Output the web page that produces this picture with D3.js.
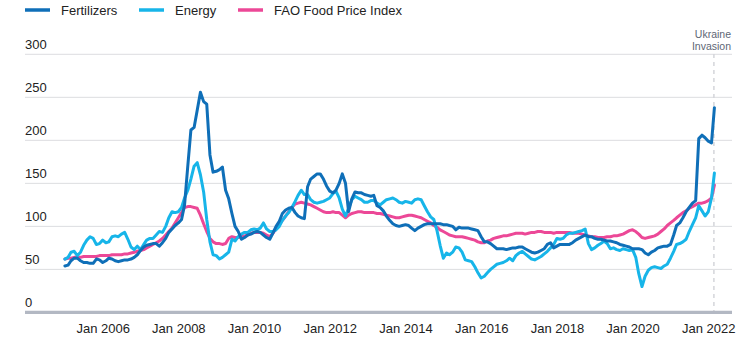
<!DOCTYPE html>
<html>
<head>
<meta charset="utf-8">
<script src="https://cdn.jsdelivr.net/npm/d3@7"></script>
<style>
  html, body { margin: 0; padding: 0; background: #fff; }
  svg { display: block; font-family: "Liberation Sans", Arial, sans-serif; }
</style>
</head>
<body>
<svg id="chart" width="752" height="338"></svg>
<script>
// ---- DATA (monthly, Jan 2005 – Mar 2022) ----
const startMonth = "2005-01";
const endMonth = "2022-03";
const seriesNames = ["Fertilizers", "Energy", "FAO Food Price Index"];

const fertilizers = [
  54,55,60,63,63,60,58,58,57,57,62,61,
  58,60,63,62,60,59,60,61,61,62,64,67,
  72,76,78,79,80,80,77,81,86,93,97,101,
  104,108,125,170,212,215,235,256,245,242,183,163,
  164,166,169,142,132,115,100,94,85,87,90,91,
  93,94,93,90,87,85,92,100,106,115,119,121,
  122,116,112,110,109,146,155,158,161,161,155,147,
  141,139,142,150,161,150,117,132,140,139,139,137,
  136,135,136,124,122,118,112,107,103,101,100,101,
  102,101,98,95,98,100,102,103,103,103,103,103,
  102,102,101,100,96,99,98,98,98,97,96,95,
  88,82,82,80,77,74,74,74,73,74,75,75,
  76,76,74,72,70,69,70,72,74,79,81,75,
  77,79,79,79,79,81,84,86,88,90,88,88,
  86,85,85,84,83,83,82,81,79,78,77,76,
  74,74,74,73,69,67,70,72,75,76,77,77,
  79,90,101,104,110,117,122,127,130,202,206,203,
  199,197,238
];

const energy = [
  62,64,70,71,66,70,78,84,88,86,79,80,
  84,81,82,88,89,88,91,93,85,76,73,77,
  73,79,84,86,86,90,94,93,100,110,117,116,
  117,122,133,142,155,170,174,160,140,108,82,67,
  66,62,64,67,70,85,83,88,91,93,93,96,
  97,96,98,104,97,94,94,96,100,107,112,116,
  122,129,136,142,137,137,131,128,127,128,129,131,
  133,138,141,133,120,112,121,131,135,133,131,128,
  128,130,130,127,125,128,131,132,133,131,128,127,
  129,128,127,131,132,131,124,117,111,108,95,78,
  63,69,67,70,76,75,70,61,60,59,53,46,
  40,42,46,50,53,56,57,58,60,63,60,66,
  69,71,68,65,62,61,63,65,68,71,75,79,
  86,85,86,90,92,92,93,94,95,97,80,73,
  75,78,80,83,80,74,75,73,72,74,73,72,
  73,64,45,30,42,49,52,53,52,51,54,56,
  63,71,79,80,82,85,94,102,110,124,118,112,
  117,133,162
];

const foodPrice = [
  62,63,63,64,64,64,65,65,65,65,65,66,
  66,66,66,67,67,67,67,68,68,69,70,71,
  72,73,75,77,79,81,83,86,90,94,98,104,
  110,116,122,123,123,122,121,113,103,94,86,82,
  80,80,79,80,86,88,87,87,88,89,90,92,
  93,93,93,92,90,88,92,97,102,107,112,117,
  122,126,127,128,127,126,125,123,121,119,117,116,
  116,117,116,116,113,110,113,115,116,117,117,116,
  116,116,116,115,115,114,113,112,111,110,110,111,
  112,113,113,112,111,110,108,106,104,101,99,96,
  94,92,90,89,88,88,88,87,86,85,84,82,
  81,81,83,84,86,87,88,89,89,90,91,92,
  92,92,91,92,93,93,94,94,93,93,93,92,
  93,93,93,93,93,92,92,92,91,90,89,88,
  88,87,87,87,88,88,89,89,90,91,93,95,
  96,94,91,87,86,87,88,89,91,94,97,101,
  104,107,110,113,116,118,121,123,125,127,127,128,
  130,133,148
];

const yTicks = [0, 50, 100, 150, 200, 250, 300];
const xTickYears = [2006, 2008, 2010, 2012, 2014, 2016, 2018, 2020, 2022];
const xTickLabels = ["Jan 2006","Jan 2008","Jan 2010","Jan 2012","Jan 2014","Jan 2016","Jan 2018","Jan 2020","Jan 2022"];
const eventDate = "2022-02-24";
const eventLabel = ["Ukraine", "Invasion"];

// ---- STYLE ----
const colors = { "Fertilizers": "#0f6fb8", "Energy": "#17b5e9", "FAO Food Price Index": "#ec4897" };

// ---- BUILD ----
const parseMonth = d3.timeParse("%Y-%m");
const months = d3.timeMonth.range(parseMonth(startMonth), d3.timeMonth.offset(parseMonth(endMonth), 1));

const svg = d3.select("#chart");
const left = 25, right = 732;

const x = d3.scaleTime()
  .domain([new Date(2006, 0, 1), new Date(2022, 0, 1)])
  .range([102.7, 708.3]);
const y = d3.scaleLinear().domain([0, 300]).range([312.4, 54.3]);

// gridlines
svg.append("g").selectAll("line")
  .data(yTicks.filter(d => d > 0))
  .join("line")
  .attr("x1", left).attr("x2", right)
  .attr("y1", d => y(d)).attr("y2", d => y(d))
  .attr("stroke", "#dcdde0").attr("stroke-width", 1);

// y labels
svg.append("g").selectAll("text")
  .data(yTicks)
  .join("text")
  .attr("x", left).attr("y", d => y(d) - 5)
  .attr("font-size", 13).attr("fill", "#222")
  .text(d => d);

// event dashed line
const ev = d3.timeParse("%Y-%m-%d")(eventDate);
svg.append("line")
  .attr("x1", x(ev)).attr("x2", x(ev))
  .attr("y1", 54).attr("y2", 311)
  .attr("stroke", "#d4d6da").attr("stroke-width", 1.5)
  .attr("stroke-dasharray", "4,4");

svg.append("g").selectAll("text")
  .data(eventLabel)
  .join("text")
  .attr("x", 731).attr("y", (d, i) => 38 + i * 11.5)
  .attr("text-anchor", "end")
  .attr("font-size", 10.5).attr("fill", "#5d6675")
  .text(d => d);

// x axis bar
svg.append("line")
  .attr("x1", left).attr("x2", right)
  .attr("y1", y(0)).attr("y2", y(0))
  .attr("stroke", "#b3b8c3").attr("stroke-width", 3.4);

// x labels
const xAxis = d3.axisBottom(x)
  .tickValues(xTickYears.map(yr => new Date(yr, 0, 1)))
  .tickFormat((d, i) => xTickLabels[i])
  .tickSize(0).tickPadding(0);
const gx = svg.append("g").attr("transform", "translate(0,323.5)").call(xAxis);
gx.select(".domain").remove();
gx.selectAll("text").attr("font-size", 13).attr("fill", "#222")
  .attr("font-family", "'Liberation Sans', Arial, sans-serif");

// lines
const seriesData = {
  "Fertilizers": fertilizers,
  "Energy": energy,
  "FAO Food Price Index": foodPrice
};
const line = d3.line()
  .x((d, i) => x(months[i]))
  .y(d => y(d));

["FAO Food Price Index", "Energy", "Fertilizers"].forEach(name => {
  svg.append("path")
    .datum(seriesData[name])
    .attr("fill", "none")
    .attr("stroke", colors[name])
    .attr("stroke-width", 3)
    .attr("stroke-linejoin", "round")
    .attr("stroke-linecap", "round")
    .attr("d", line);
});

// legend
const legendX = [25, 139, 238];
const lg = svg.append("g").selectAll("g")
  .data(seriesNames)
  .join("g")
  .attr("transform", (d, i) => `translate(${legendX[i]},10)`);
lg.append("line")
  .attr("x1", 0).attr("x2", 25).attr("y1", 0).attr("y2", 0)
  .attr("stroke", d => colors[d]).attr("stroke-width", 3.5);
lg.append("text")
  .attr("x", 36).attr("y", 4.5)
  .attr("font-size", 13).attr("fill", "#222")
  .text(d => d);
</script>
</body>
</html>
